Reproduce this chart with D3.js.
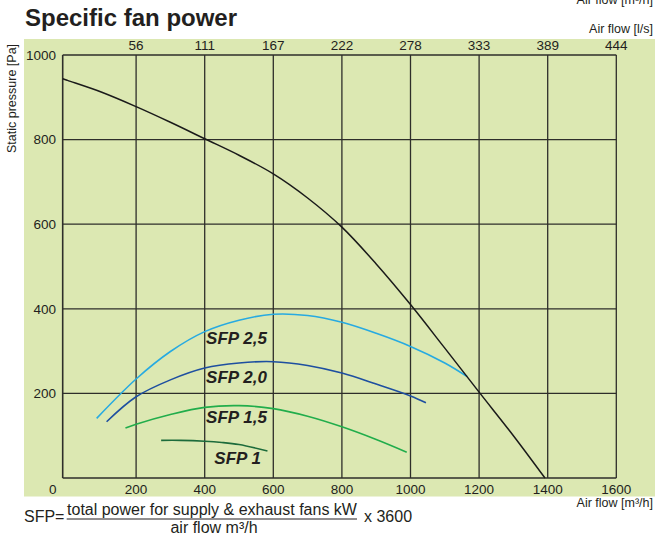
<!DOCTYPE html>
<html><head><meta charset="utf-8">
<script src="https://cdn.jsdelivr.net/npm/d3@7"></script>
<style>
html,body{margin:0;padding:0;background:#fff;}
text{font-family:"Liberation Sans",Arial,sans-serif;fill:#231f20;}
</style></head>
<body><svg id="c" width="655" height="539"></svg>
<script>
// ---- data ----
const xTicks = [0, 200, 400, 600, 800, 1000, 1200, 1400, 1600];      // m3/h
const xTicksLs = ["", "56", "111", "167", "222", "278", "333", "389", "444"]; // l/s
const yTicks = [0, 200, 400, 600, 800, 1000];                          // Pa

const fanFlow     = [-14, 0, 100, 200, 300, 400, 500, 600, 700, 800, 900, 1000, 1100, 1200, 1300, 1392];
const fanPressure = [944, 940, 912, 878, 841, 802, 763, 719, 662, 593, 506, 410, 307, 203, 100, 0];

const sfp25Flow = [85, 200, 300, 400, 500, 600, 700, 800, 900, 1000, 1100, 1165];
const sfp25Pres = [141, 234, 299, 346, 373, 387, 384, 368, 342, 311, 272, 240];
const sfp20Flow = [114, 200, 300, 400, 500, 600, 700, 800, 900, 1000, 1045];
const sfp20Pres = [133, 192, 232, 260, 272, 275, 266, 248, 222, 194, 178];
const sfp15Flow = [169, 200, 300, 400, 500, 600, 700, 800, 900, 989];
const sfp15Pres = [118, 127, 150, 167, 171, 164, 146, 121, 91, 61];
const sfp10Flow = [273, 330, 400, 450, 500, 583];
const sfp10Pres = [89, 89, 87, 84, 79, 64];

const sfpNames  = ["SFP 2,5", "SFP 2,0", "SFP 1,5", "SFP 1"];
const sfpColors = ["#27aae1", "#1e4fa0", "#21ad4b", "#1c6b3b"];
const sfpLabelFlow = [404, 404, 404, 428];
const sfpLabelPres = [316, 225, 129, 33];

// ---- scales ----
const svg = d3.select("#c");
const x = d3.scaleLinear().domain([-14, 1600]).range([62.7, 616.3]);
const y = d3.scaleLinear().domain([0, 1000]).range([478, 55]);

// background
svg.append("rect").attr("x", 0).attr("y", 0).attr("width", 655).attr("height", 539).attr("fill", "#fff");
svg.append("rect").attr("x", 24).attr("y", 39).attr("width", 631).attr("height", 457.5).attr("fill", "#dce8b2");

// grid
const grid = svg.append("g").attr("stroke", "#2e2e2a").attr("stroke-width", 1.3).attr("fill", "none");
xTicks.slice(1).forEach(v => {
  grid.append("line").attr("x1", x(v)).attr("x2", x(v)).attr("y1", y(0)).attr("y2", y(1000));
});
yTicks.slice(1).forEach(v => {
  grid.append("line").attr("x1", x(-14)).attr("x2", x(1600)).attr("y1", y(v)).attr("y2", y(v));
});
// axes frame
grid.append("line").attr("x1", x(-14)).attr("x2", x(-14)).attr("y1", y(0)).attr("y2", y(1000)).attr("stroke-width", 1.6);
grid.append("line").attr("x1", x(-14)).attr("x2", x(1600)).attr("y1", y(0)).attr("y2", y(0)).attr("stroke-width", 1.6);

// tick labels
const tk = svg.append("g").style("font-size", "13.5px");
xTicks.forEach((v, i) => {
  tk.append("text").attr("x", v === 0 ? x(-14) - 10 : x(v)).attr("y", 494)
    .attr("text-anchor", "middle").text(v);
  if (xTicksLs[i]) tk.append("text").attr("x", x(v)).attr("y", 50)
    .attr("text-anchor", "middle").text(xTicksLs[i]);
});
yTicks.slice(1).forEach(v => {
  tk.append("text").attr("x", 56).attr("y", y(v) + 4.8)
    .attr("text-anchor", "end").text(v);
});

// curves
const line = d3.line().x(d => x(d[0])).y(d => y(d[1])).curve(d3.curveCatmullRom.alpha(0.5));
const zip = (a, b) => a.map((v, i) => [v, b[i]]);
const sfpSeries = [zip(sfp25Flow, sfp25Pres), zip(sfp20Flow, sfp20Pres), zip(sfp15Flow, sfp15Pres), zip(sfp10Flow, sfp10Pres)];
sfpSeries.forEach((s, i) => {
  svg.append("path").attr("d", line(s)).attr("fill", "none")
    .attr("stroke", sfpColors[i]).attr("stroke-width", 1.6);
});
svg.append("path").attr("d", line(zip(fanFlow, fanPressure))).attr("fill", "none")
  .attr("stroke", "#1a1a1a").attr("stroke-width", 1.5);

// SFP labels
sfpNames.forEach((n, i) => {
  svg.append("text").attr("x", x(sfpLabelFlow[i])).attr("y", y(sfpLabelPres[i]))
    .style("font-size", "17px").style("font-weight", "bold").style("font-style", "italic").text(n);
});

// titles
svg.append("text").attr("x", 25).attr("y", 26).style("font-size", "24px").style("font-weight", "bold").text("Specific fan power");
svg.append("text").attr("x", 653).attr("y", 4).attr("text-anchor", "end").style("font-size", "12.5px").text("Air flow [m³/h]");
svg.append("text").attr("x", 653).attr("y", 33).attr("text-anchor", "end").style("font-size", "12.5px").text("Air flow [l/s]");
svg.append("text").attr("x", 653).attr("y", 507).attr("text-anchor", "end").style("font-size", "12.5px").text("Air flow [m³/h]");
svg.append("text").attr("transform", "translate(16,153) rotate(-90)").style("font-size", "12.5px").text("Static pressure [Pa]");

// formula
const f = svg.append("g").style("font-size", "16px");
f.append("text").attr("x", 24).attr("y", 522).text("SFP=");
f.append("text").attr("x", 212).attr("y", 515).attr("text-anchor", "middle").text("total power for supply & exhaust fans kW");
f.append("line").attr("x1", 66.7).attr("x2", 357).attr("y1", 519).attr("y2", 519).attr("stroke", "#231f20").attr("stroke-width", 1);
f.append("text").attr("x", 214).attr("y", 533).attr("text-anchor", "middle").text("air flow m³/h");
f.append("text").attr("x", 364).attr("y", 522).text("x 3600");
</script></body></html>
